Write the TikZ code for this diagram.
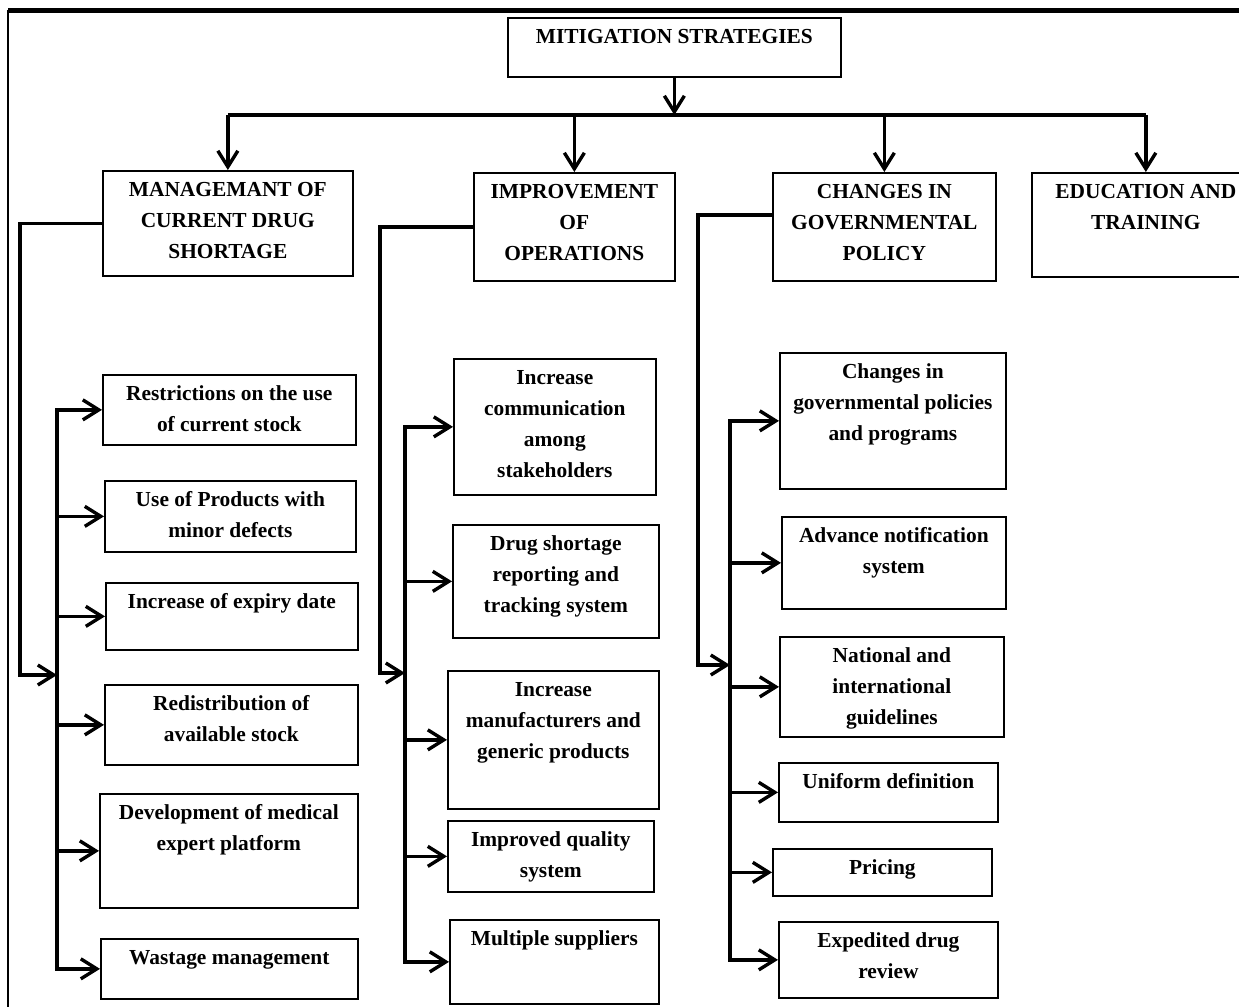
\documentclass[tikz,border=0pt]{standalone}
\usepackage{fontspec}
\setmainfont{Liberation Serif}
\usetikzlibrary{arrows.meta}
% text set at the top of a box, width and height in pixels
\newcommand{\boxtext}[3]{\parbox[t][\dimexpr#2pt/2-4pt\relax][t]{\dimexpr#1pt/2\relax}{\centering\strut#3}}

\begin{document}
\begin{tikzpicture}[x=0.5pt,y=-0.5pt,
    item/.style={draw,line width=0.85pt,inner xsep=0pt,inner ysep=2pt,anchor=north west,font={\bfseries\fontsize{10.7}{15.5}\selectfont}},
    wire/.style={line width=1.75pt},
    arr/.style={wire,-{Straight Barb[length=8pt,width=10pt,line width=1.7pt]}}]
    \useasboundingbox (0,0) rectangle (1239,1007);
    % frame
    \draw[line width=0.8pt] (8,10) -- (8,1012);
    \draw[line width=2.5pt] (8,10) -- (1245,10);

    % top levels
    \node[item] (top) at (507,17) {\boxtext{333}{59}{MITIGATION STRATEGIES}};
    \node[item] (mgt) at (102,170) {\boxtext{250}{105}{MANAGEMANT OF\\CURRENT DRUG\\SHORTAGE}};
    \node[item] (imp) at (473,172) {\boxtext{201}{108}{IMPROVEMENT\\OF\\OPERATIONS}};
    \node[item] (gov) at (772,172) {\boxtext{223}{108}{CHANGES IN\\GOVERNMENTAL\\POLICY}};
    \node[item] (edu) at (1031,172) {\boxtext{228}{104}{EDUCATION AND\\TRAINING}};

    % management
    \node[item] (mgt1) at (102,374) {\boxtext{253}{70}{Restrictions on the use\\of current stock}};
    \node[item] (mgt2) at (104,480) {\boxtext{251}{71}{Use of Products with\\minor defects}};
    \node[item] (mgt3) at (105,582) {\boxtext{252}{67}{Increase of expiry date}};
    \node[item] (mgt4) at (104,684) {\boxtext{253}{80}{Redistribution of\\available stock}};
    \node[item] (mgt5) at (99,793) {\boxtext{258}{114}{Development of medical\\expert platform}};
    \node[item] (mgt6) at (100,938) {\boxtext{257}{60}{Wastage management}};

    % operations
    \node[item] (imp1) at (453,358) {\boxtext{202}{136}{Increase\\communication\\among\\stakeholders}};
    \node[item] (imp2) at (452,524) {\boxtext{206}{113}{Drug shortage\\reporting and\\tracking system}};
    \node[item] (imp3) at (447,670) {\boxtext{211}{138}{Increase\\manufacturers and\\generic products}};
    \node[item] (imp4) at (447,820) {\boxtext{206}{71}{Improved quality\\system}};
    \node[item] (imp5) at (449,919) {\boxtext{209}{84}{Multiple suppliers}};

    % policy
    \node[item] (gov1) at (779,352) {\boxtext{226}{136}{Changes in\\governmental policies\\and programs}};
    \node[item] (gov2) at (781,516) {\boxtext{224}{92}{Advance notification\\system}};
    \node[item] (gov3) at (779,636) {\boxtext{224}{100}{National and\\international\\guidelines}};
    \node[item] (gov4) at (778,762) {\boxtext{219}{59}{Uniform definition}};
    \node[item] (gov5) at (772,848) {\boxtext{219}{47}{Pricing}};
    \node[item] (gov6) at (778,921) {\boxtext{219}{76}{Expedited drug\\review}};

    % main branches
    \coordinate (bus) at (675,115);
    \draw[arr] (top.south) -- (top.south |- bus);
    \draw[wire] (mgt.north |- bus) -- (edu.north |- bus);
    \foreach \n in {mgt,imp,gov,edu}
        \draw[arr] (\n.north |- bus) -- (\n.north);

    % rails
    \coordinate (mgtrail) at (20,675);
    \coordinate (mgtbus) at (57,675);
    \coordinate (imprail) at (380,673);
    \coordinate (impbus) at (405,673);
    \coordinate (govrail) at (698,665);
    \coordinate (govbus) at (730,665);
    \draw[arr] (mgt.west) -| (mgtrail) -- (mgtbus);
    \draw[arr] (imp.west) -| (imprail) -- (impbus);
    \draw[arr] ([yshift=6pt]gov.west) -| (govrail) -- (govbus);

    \draw[wire,line cap=rect] (mgt1.west -| mgtbus) -- (mgt6.west -| mgtbus);
    \draw[wire,line cap=rect] (imp1.west -| impbus) -- (imp5.west -| impbus);
    \draw[wire,line cap=rect] (gov1.west -| govbus) -- (gov6.west -| govbus);
    \foreach \i in {1,...,6}
        \draw[arr] (mgt\i.west -| mgtbus) -- (mgt\i.west);
    \foreach \i in {1,...,5}
        \draw[arr] (imp\i.west -| impbus) -- (imp\i.west);
    \foreach \i in {1,...,6}
        \draw[arr] (gov\i.west -| govbus) -- (gov\i.west);
\end{tikzpicture}
\end{document}
